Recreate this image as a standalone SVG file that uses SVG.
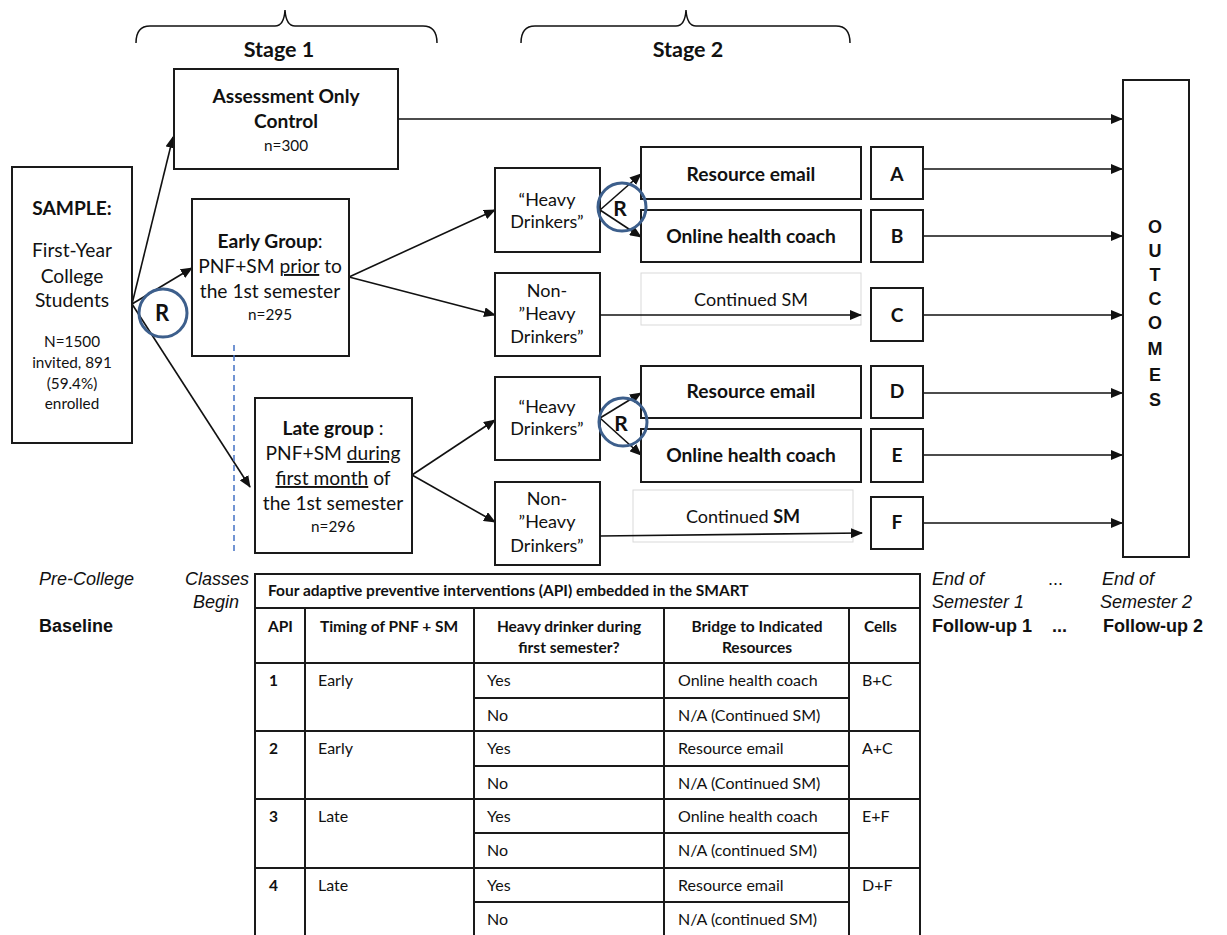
<svg xmlns="http://www.w3.org/2000/svg" width="1227" height="935" viewBox="0 0 1227 935">
<style>
  .box{fill:#fff;stroke:#1a1a1a;stroke-width:2}
  .lite{fill:#fff;stroke:#d9d9d9;stroke-width:1}
  .t{font-family:Lato,"Open Sans",sans-serif;fill:#111;text-anchor:middle}
  .b{font-weight:bold}
  .lg{font-size:19.2px}
  .md{font-size:18px}
  .sm{font-size:15.3px}
  .ar{font-family:"Liberation Sans",Arial,sans-serif;fill:#111;font-size:18px}
  .it{font-style:italic}
  .conn line,.conn path{stroke:#111;stroke-width:1.6;fill:none}
  .arr{marker-end:url(#ah)}
  .rc{fill:none;stroke:#3d5f8c;stroke-width:3}
  .tbl line{stroke:#1a1a1a;stroke-width:2}
  .tt{font-family:Lato,"Open Sans",sans-serif;fill:#111;font-size:16px}
  .th{font-family:Lato,"Open Sans",sans-serif;fill:#111;font-size:15.5px;font-weight:bold}
</style>
<defs>
  <marker id="ah" markerWidth="12" markerHeight="10" refX="11" refY="5" orient="auto" markerUnits="userSpaceOnUse">
    <path d="M0,0 L12,5 L0,10 Z" fill="#111"/>
  </marker>
</defs>
<rect width="1227" height="935" fill="#fff"/>

<!-- braces -->
<g id="brace1" fill="none" stroke="#111" stroke-width="1.5">
  <path d="M136,43 Q136,26 150,26 L275,26 Q284,26 285,10 Q286,26 295,26 L423,26 Q437,26 437,43"/>
</g>
<g id="brace2" fill="none" stroke="#111" stroke-width="1.5">
  <path d="M521,43 Q521,26 535,26 L676,26 Q685,26 686,10 Q687,26 696,26 L836,26 Q850,26 850,43"/>
</g>
<text class="t b" x="279" y="57" font-size="21.5">Stage 1</text>
<text class="t b" x="688" y="57" font-size="21.5">Stage 2</text>

<!-- connectors -->
<g id="connectors" class="conn">
  <line class="arr" x1="132" y1="304" x2="173" y2="137"/>
  <line class="arr" x1="132" y1="304" x2="192" y2="268"/>
  <line class="arr" x1="132" y1="304" x2="250" y2="487"/>
  <line class="arr" x1="398" y1="119" x2="1122" y2="119"/>
  <line class="arr" x1="349" y1="277" x2="495" y2="210"/>
  <line class="arr" x1="349" y1="277" x2="495" y2="315"/>
  <line class="arr" x1="600" y1="210" x2="641" y2="174"/>
  <line class="arr" x1="600" y1="210" x2="641" y2="237"/>
  <line class="arr" x1="412" y1="475" x2="495" y2="420"/>
  <line class="arr" x1="412" y1="475" x2="495" y2="522"/>
  <line class="arr" x1="600" y1="418" x2="641" y2="393"/>
  <line class="arr" x1="600" y1="418" x2="641" y2="455"/>
  <line class="arr" x1="923" y1="169" x2="1122" y2="169"/>
  <line class="arr" x1="923" y1="236" x2="1122" y2="236"/>
  <line class="arr" x1="923" y1="315" x2="1122" y2="315"/>
  <line class="arr" x1="923" y1="393" x2="1122" y2="393"/>
  <line class="arr" x1="923" y1="455" x2="1122" y2="455"/>
  <line class="arr" x1="923" y1="523" x2="1122" y2="523"/>
</g>

<g id="sample">
  <rect class="box" x="12" y="167" width="120" height="276"/>
  <text class="t b lg" x="72" y="215">SAMPLE:</text>
  <text class="t lg" x="72" y="257">First-Year</text>
  <text class="t lg" x="72" y="283">College</text>
  <text class="t lg" x="72" y="307">Students</text>
  <text class="t sm" x="72" y="347">N=1500</text>
  <text class="t sm" x="72" y="368">invited, 891</text>
  <text class="t sm" x="72" y="389">(59.4%)</text>
  <text class="t sm" x="72" y="409">enrolled</text>
</g>

<g id="r1">
  <circle class="rc" cx="163" cy="313" r="24"/>
  <text class="t b" x="162" y="321" font-size="22">R</text>
</g>

<g id="assessment">
  <rect class="box" x="174" y="69" width="224" height="100"/>
  <text class="t b lg" x="286" y="103">Assessment Only</text>
  <text class="t b lg" x="286" y="128">Control</text>
  <text class="t sm" x="286" y="151">n=300</text>
</g>

<g id="early">
  <rect class="box" x="192" y="199" width="157" height="157"/>
  <text class="t lg" x="270" y="248"><tspan font-weight="bold">Early Group</tspan>:</text>
  <text class="t lg" x="270" y="273">PNF+SM <tspan text-decoration="underline">prior</tspan> to</text>
  <text class="t lg" x="270" y="298">the 1st semester</text>
  <text class="t sm" x="270" y="320">n=295</text>
</g>

<g id="late">
  <rect class="box" x="255" y="398" width="157" height="155"/>
  <text class="t lg" x="333" y="435"><tspan font-weight="bold">Late group</tspan> :</text>
  <text class="t lg" x="333" y="460">PNF+SM <tspan text-decoration="underline">during</tspan></text>
  <text class="t lg" x="333" y="485"><tspan text-decoration="underline">first month</tspan> of</text>
  <text class="t lg" x="333" y="510">the 1st semester</text>
  <text class="t sm" x="333" y="532">n=296</text>
</g>

<line x1="234" y1="345" x2="234" y2="552" stroke="#4472c4" stroke-width="1.5" stroke-dasharray="6,4"/>

<g id="heavy1">
  <rect class="box" x="495" y="168" width="105" height="84"/>
  <text class="t md" x="547" y="206">“Heavy</text>
  <text class="t md" x="547" y="228">Drinkers”</text>
</g>
<g id="nonheavy1">
  <rect class="box" x="495" y="273" width="105" height="83"/>
  <text class="t md" x="547" y="297">Non-</text>
  <text class="t md" x="547" y="320">”Heavy</text>
  <text class="t md" x="547" y="343">Drinkers”</text>
</g>
<g id="heavy2">
  <rect class="box" x="495" y="377" width="105" height="83"/>
  <text class="t md" x="547" y="413">“Heavy</text>
  <text class="t md" x="547" y="435">Drinkers”</text>
</g>
<g id="nonheavy2">
  <rect class="box" x="495" y="482" width="105" height="83"/>
  <text class="t md" x="547" y="505">Non-</text>
  <text class="t md" x="547" y="528">”Heavy</text>
  <text class="t md" x="547" y="552">Drinkers”</text>
</g>

<g id="re1">
  <rect class="box" x="641" y="147" width="220" height="52"/>
  <text class="t b lg" x="751" y="181">Resource email</text>
</g>
<g id="ohc1">
  <rect class="box" x="641" y="210" width="220" height="52"/>
  <text class="t b lg" x="751" y="243">Online health coach</text>
</g>
<g id="csm1">
  <rect class="lite" x="641" y="273" width="220" height="52"/>
  <text class="t md" x="751" y="306">Continued SM</text>
</g>
<g id="re2">
  <rect class="box" x="641" y="366" width="220" height="52"/>
  <text class="t b lg" x="751" y="398">Resource email</text>
</g>
<g id="ohc2">
  <rect class="box" x="641" y="429" width="220" height="53"/>
  <text class="t b lg" x="751" y="462">Online health coach</text>
</g>
<g id="csm2">
  <rect class="lite" x="633" y="490" width="220" height="52"/>
  <text class="t md" x="743" y="523">Continued <tspan font-weight="bold">SM</tspan></text>
</g>

<g class="conn">
  <line class="arr" x1="600" y1="315" x2="861" y2="315"/>
  <line class="arr" x1="600" y1="536" x2="862" y2="533"/>
</g>

<g id="r2">
  <circle class="rc" cx="622" cy="207" r="24"/>
  <text class="t b" x="620" y="216" font-size="21">R</text>
</g>
<g id="r3">
  <circle class="rc" cx="623" cy="422" r="24"/>
  <text class="t b" x="621" y="431" font-size="21">R</text>
</g>

<g id="cellA"><rect class="box" x="871" y="147" width="52" height="52"/><text class="t b lg" x="897" y="181">A</text></g>
<g id="cellB"><rect class="box" x="871" y="210" width="52" height="52"/><text class="t b lg" x="897" y="243">B</text></g>
<g id="cellC"><rect class="box" x="871" y="288" width="52" height="53"/><text class="t b lg" x="897" y="322">C</text></g>
<g id="cellD"><rect class="box" x="871" y="366" width="52" height="52"/><text class="t b lg" x="897" y="398">D</text></g>
<g id="cellE"><rect class="box" x="871" y="429" width="52" height="53"/><text class="t b lg" x="897" y="462">E</text></g>
<g id="cellF"><rect class="box" x="871" y="497" width="52" height="52"/><text class="t b lg" x="897" y="529">F</text></g>

<g id="outcomes">
  <rect class="box" x="1123" y="80" width="66" height="477"/>
  <g font-family="'Liberation Sans',Arial,sans-serif" font-weight="bold" font-size="18" text-anchor="middle" fill="#111">
    <text x="1155" y="233">O</text>
    <text x="1155" y="257">U</text>
    <text x="1155" y="281">T</text>
    <text x="1155" y="305">C</text>
    <text x="1155" y="329">O</text>
    <text x="1155" y="355">M</text>
    <text x="1155" y="381">E</text>
    <text x="1155" y="406">S</text>
  </g>
</g>

<!-- time labels -->
<text class="ar it" x="39" y="585">Pre-College</text>
<text class="ar b" x="39" y="632">Baseline</text>
<text class="ar it" x="249" y="585" text-anchor="end">Classes</text>
<text class="ar it" x="239" y="608" text-anchor="end">Begin</text>
<text class="ar it" x="932" y="585">End of</text>
<text class="ar it" x="932" y="608">Semester 1</text>
<text class="ar b" x="932" y="632">Follow-up 1</text>
<text class="ar" x="1048" y="585">...</text>
<text class="ar b" x="1052" y="632">...</text>
<text class="ar it" x="1102" y="585">End of</text>
<text class="ar it" x="1100" y="608">Semester 2</text>
<text class="ar b" x="1103" y="632">Follow-up 2</text>

<!-- table -->
<g id="table">
  <rect x="255" y="574" width="665" height="370" fill="#fff"/>
  <g class="tbl">
    <line x1="254" y1="574" x2="921" y2="574"/>
    <line x1="255" y1="574" x2="255" y2="935"/>
    <line x1="920" y1="574" x2="920" y2="935"/>
    <line x1="255" y1="608" x2="920" y2="608"/>
    <line x1="305" y1="608" x2="305" y2="935"/>
    <line x1="474" y1="608" x2="474" y2="935"/>
    <line x1="664" y1="608" x2="664" y2="935"/>
    <line x1="849" y1="608" x2="849" y2="935"/>
    <line x1="255" y1="663" x2="920" y2="663"/>
    <line x1="255" y1="731" x2="920" y2="731"/>
    <line x1="255" y1="799" x2="920" y2="799"/>
    <line x1="255" y1="868" x2="920" y2="868"/>
    <line x1="474" y1="698" x2="849" y2="698"/>
    <line x1="474" y1="766" x2="849" y2="766"/>
    <line x1="474" y1="833" x2="849" y2="833"/>
    <line x1="474" y1="902" x2="849" y2="902"/>
  </g>
  <text class="th" x="268" y="596" font-size="16">Four adaptive preventive interventions (API) embedded in the SMART</text>
  <text class="th" x="268" y="632">API</text>
  <text class="th" x="389" y="632" text-anchor="middle">Timing of PNF + SM</text>
  <text class="th" x="569" y="632" text-anchor="middle">Heavy drinker during</text>
  <text class="th" x="569" y="653" text-anchor="middle">first semester?</text>
  <text class="th" x="757" y="632" text-anchor="middle">Bridge to Indicated</text>
  <text class="th" x="757" y="653" text-anchor="middle">Resources</text>
  <text class="th" x="864" y="632">Cells</text>

  <text class="th" x="269" y="686">1</text>
  <text class="tt" x="318" y="686">Early</text>
  <text class="tt" x="487" y="686">Yes</text>
  <text class="tt" x="678" y="686">Online health coach</text>
  <text class="tt" x="862" y="686">B+C</text>
  <text class="tt" x="487" y="721">No</text>
  <text class="tt" x="678" y="721">N/A (Continued SM)</text>

  <text class="th" x="269" y="754">2</text>
  <text class="tt" x="318" y="754">Early</text>
  <text class="tt" x="487" y="754">Yes</text>
  <text class="tt" x="678" y="754">Resource email</text>
  <text class="tt" x="862" y="754">A+C</text>
  <text class="tt" x="487" y="789">No</text>
  <text class="tt" x="678" y="789">N/A (Continued SM)</text>

  <text class="th" x="269" y="822">3</text>
  <text class="tt" x="318" y="822">Late</text>
  <text class="tt" x="487" y="822">Yes</text>
  <text class="tt" x="678" y="822">Online health coach</text>
  <text class="tt" x="862" y="822">E+F</text>
  <text class="tt" x="487" y="856">No</text>
  <text class="tt" x="678" y="856">N/A (continued SM)</text>

  <text class="th" x="269" y="891">4</text>
  <text class="tt" x="318" y="891">Late</text>
  <text class="tt" x="487" y="891">Yes</text>
  <text class="tt" x="678" y="891">Resource email</text>
  <text class="tt" x="862" y="891">D+F</text>
  <text class="tt" x="487" y="925">No</text>
  <text class="tt" x="678" y="925">N/A (continued SM)</text>
</g>
</svg>
